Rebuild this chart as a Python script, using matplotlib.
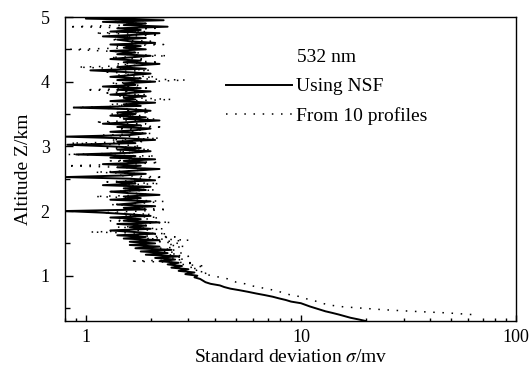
import numpy as np
import matplotlib
matplotlib.use("Agg")
import matplotlib.pyplot as plt
from matplotlib.ticker import MultipleLocator, LogLocator, NullFormatter, FixedFormatter, FixedLocator

plt.rcParams['font.family'] = ['Liberation Serif', 'DejaVu Serif']
plt.rcParams['mathtext.fontset'] = 'stix'

# altitude grid (km) starts and step
z0_nsf = 0.300
z0_prof = 0.400
dz = 0.025

# standard deviation (mV) using NSF, from 0.300 km upward
sigma_nsf = [
    20.0, 18.5, 17.0, 16.0, 15.0, 14.0, 13.0, 12.3, 11.6, 11.0,
    10.5, 10.0, 9.0, 8.5, 7.9, 7.4, 6.8, 6.2, 5.7, 5.2,
    4.7, 4.4, 4.2, 3.8, 3.6, 3.5, 3.4, 3.2, 3.3, 2.9,
    3.2, 2.7, 3.0, 2.5, 2.8, 2.4, 2.7, 2.2, 2.6, 2.1,
    2.7, 1.9, 2.4, 1.8, 2.5, 1.7, 2.2, 1.6, 2.1,
    1.6, 2.2, 1.5, 1.9, 1.4, 2.1, 1.7, 1.3, 2.0, 1.6,
    1.9, 1.4, 2.2, 1.5, 1.8, 1.3, 2.0, 1.6, 1.2, 0.8,
    1.9, 1.5, 2.1, 1.4, 1.7, 2.0, 1.3, 1.8, 1.5, 2.2,
    1.6, 1.3, 1.9, 1.5, 2.0, 1.2, 1.7, 1.4, 2.1, 1.6,
    0.8, 1.5, 1.9, 1.3, 1.7, 2.2, 1.4, 1.8, 1.2, 1.9,
    1.5, 2.1, 1.3, 1.7, 0.9, 1.6, 2.0, 1.4, 1.8, 1.3,
    0.82, 1.7, 1.4, 2.1, 1.5, 0.8, 1.6, 1.9, 1.3, 1.7,
    2.0, 1.4, 1.8, 1.2, 1.6, 2.2, 1.5, 1.9, 1.3, 1.7,
    1.4, 2.0, 1.6, 0.88, 1.8, 1.5, 2.1, 1.3, 1.7, 1.5,
    1.9, 1.3, 1.6, 2.0, 1.4, 1.8, 1.2, 1.7, 1.5, 2.1,
    1.4, 1.8, 1.3, 1.6, 2.0, 1.5, 1.05, 1.9, 1.4, 1.7,
    2.2, 1.5, 1.8, 1.3, 1.6, 2.0, 1.4, 1.7, 1.3, 1.9,
    1.5, 1.8, 1.3, 2.1, 1.6, 1.4, 1.9, 1.2, 1.7, 2.2,
    1.3, 1.8, 1.4, 2.4, 1.5, 1.9, 1.2, 2.3, 1.0, 2.5,
]

# standard deviation (mV) from 10 profiles, from 0.400 km upward
sigma_prof = [
    62, 48, 33, 24, 19, 15, 13.5, 12.5, 12, 11,
    10.5, 10, 9, 8.5, 8, 7.5, 6.9, 6.3, 5.8, 5.5,
    5.0, 4.8, 4.6, 4.2, 3.9, 3.5, 3.7, 3.2, 3.4, 3.0,
    3.6, 2.8, 3.2, 1.6, 2.9, 2.5, 3.0, 2.4, 2.8, 2.3,
    2.6, 2.2, 2.9, 2.4, 2.7,
    2.2, 3.0, 1.9, 2.6, 1.5, 2.4, 1.05, 1.8, 2.3, 1.4,
    2.0, 1.6, 2.5, 1.3, 1.9, 2.2, 1.5, 2.0, 1.2, 1.8,
    2.4, 1.6, 2.1, 1.3, 1.9, 2.3, 1.5, 1.8, 1.1, 2.0,
    1.7, 1.3, 2.1, 1.5, 1.9, 1.4, 2.2, 1.2, 1.8, 1.6,
    2.3, 1.4, 1.9, 1.1, 1.7, 2.0, 1.5, 0.82, 1.6, 2.2,
    1.3, 1.9, 1.5, 2.1, 0.82, 1.7, 1.4, 2.0, 1.2, 1.8,
    1.5, 0.85, 1.9, 1.3, 2.2, 1.6, 1.2, 2.0, 1.5, 1.8,
    1.4, 2.3, 1.6, 1.9, 1.1, 1.7, 2.1, 1.4, 1.8, 1.3,
    2.0, 1.5, 1.9, 0.87, 1.6, 1.3, 2.0, 1.5, 2.5, 1.7,
    1.4, 1.9, 1.2, 1.7, 1.0, 2.0, 1.5, 1.8, 1.3, 1.9,
    2.9, 1.6, 2.1, 1.4, 1.8, 1.2, 2.0, 1.5, 0.92, 1.7,
    1.4, 2.2, 1.6, 1.9, 1.3, 2.4, 1.5, 1.8, 1.2, 0.85,
    1.7, 1.4, 2.3, 1.6, 2.0, 1.3, 1.8, 1.5, 2.2, 1.1,
    1.9, 1.5, 2.1, 0.83, 1.6, 1.9, 1.2, 2.0, 1.4, 1.8,
]

z_nsf = z0_nsf + dz * np.arange(len(sigma_nsf))
z_prof = z0_prof + dz * np.arange(len(sigma_prof))

fig = plt.figure(figsize=(5.31, 3.70), dpi=100)
ax = fig.add_axes([65/531, 49/370, 451/531, 304/370])

ax.plot(sigma_nsf, z_nsf, color='black', lw=1.4, label='Using NSF')
ax.plot(sigma_prof, z_prof, color='black', lw=1.1, linestyle=(0, (1, 5)),
        label='From 10 profiles')

ax.set_xscale('log')
ax.set_xlim(0.8, 100)
ax.set_ylim(0.3, 5.0)

ax.xaxis.set_major_locator(FixedLocator([1, 10, 100]))
ax.xaxis.set_major_formatter(FixedFormatter(['1', '10', '100']))
ax.xaxis.set_minor_locator(LogLocator(base=10, subs=np.arange(2, 10)))
ax.xaxis.set_minor_formatter(NullFormatter())
ax.yaxis.set_major_locator(MultipleLocator(1))
ax.yaxis.set_minor_locator(MultipleLocator(0.5))

ax.tick_params(axis='both', which='both', direction='in', width=1,
               labelsize=13, colors='black')
ax.tick_params(axis='x', which='major', length=4.5, pad=6)
ax.tick_params(axis='x', which='minor', length=2.5)
ax.tick_params(axis='y', which='major', length=6, pad=11)
ax.tick_params(axis='y', which='minor', length=3.5)
for s in ax.spines.values():
    s.set_linewidth(1.0)

ax.set_xlabel('Standard deviation $\\sigma$/mv', fontsize=14, labelpad=2)
ax.set_ylabel('Altitude Z/km', fontsize=14, labelpad=6)

ax.text(0.514, 0.868, '532 nm', transform=ax.transAxes, fontsize=14,
        ha='left', va='center')
ax.legend(loc='upper left', bbox_to_anchor=(0.357, 0.80), frameon=False,
          fontsize=14, handlelength=3.4, handletextpad=0.2, borderpad=0,
          borderaxespad=0, labelspacing=0.6)

fig.savefig('out.png', dpi=100)
